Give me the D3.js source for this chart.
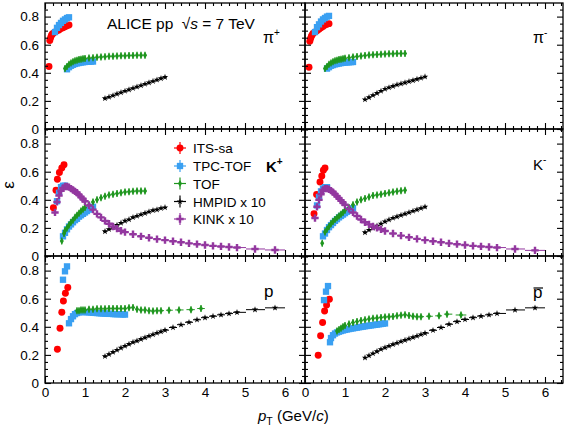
<!DOCTYPE html>
<html><head><meta charset="utf-8">
<script src="https://cdn.jsdelivr.net/npm/d3@7"></script>
<style>
body{margin:0;background:#fff}
svg{display:block}
text{font-family:"Liberation Sans",Arial,Helvetica,sans-serif;fill:#000}
</style>
</head><body>
<svg id="c" width="568" height="430"></svg>
<script>
// ---------- tick labels / categories ----------
const X_TICKS = [0, 1, 2, 3, 4, 5, 6];
const Y_TICKS = [0, 0.2, 0.4, 0.6, 0.8];
const METHODS = ["ITS-sa", "TPC-TOF", "TOF", "HMPID x 10", "KINK x 10"];

// ---------- data: [pT, efficiency] ----------
const piPlusITS = [[0.1,0.445],[0.12,0.63],[0.14,0.65],[0.16,0.665],[0.18,0.675],[0.2,0.68],[0.25,0.69],[0.3,0.70],[0.35,0.705],[0.4,0.715],[0.45,0.72],[0.5,0.728],[0.55,0.735],[0.6,0.74]];
const piPlusTPCTOF = [[0.25,0.69],[0.3,0.72],[0.35,0.74],[0.4,0.755],[0.45,0.77],[0.5,0.78],[0.55,0.79],[0.6,0.795],
  [0.55,0.425],[0.6,0.44],[0.65,0.45],[0.7,0.457],[0.75,0.463],[0.8,0.467],[0.85,0.47],[0.9,0.473],[0.95,0.475],[1.0,0.477],[1.05,0.478],[1.1,0.479],[1.15,0.48],[1.2,0.48]];
const piPlusTOF = [[0.5,0.43],[0.55,0.445],[0.6,0.46],[0.65,0.47],[0.7,0.478],[0.75,0.485],[0.8,0.49],[0.85,0.494],[0.9,0.497],[0.95,0.5],[1.0,0.502],[1.1,0.505],[1.2,0.508],[1.3,0.51],[1.4,0.513],[1.5,0.515],[1.6,0.517],[1.7,0.518],[1.8,0.52],[1.9,0.521],[2.0,0.522],[2.1,0.523],[2.2,0.524],[2.3,0.525],[2.4,0.525],[2.5,0.525]];
const piPlusHMPID = [[1.5,0.218],[1.6,0.228],[1.7,0.238],[1.8,0.25],[1.9,0.26],[2.0,0.27],[2.1,0.28],[2.2,0.29],[2.3,0.30],[2.4,0.31],[2.5,0.32],[2.6,0.33],[2.7,0.34],[2.8,0.35],[2.9,0.36],[3.0,0.369]];

const piMinusITS = [[0.1,0.44],[0.12,0.625],[0.14,0.645],[0.16,0.66],[0.18,0.67],[0.2,0.68],[0.25,0.69],[0.3,0.70],[0.35,0.71],[0.4,0.72],[0.45,0.73],[0.5,0.74],[0.55,0.745],[0.6,0.75]];
const piMinusTPCTOF = [[0.25,0.69],[0.3,0.725],[0.35,0.745],[0.4,0.765],[0.45,0.78],[0.5,0.79],[0.55,0.80],[0.6,0.805],
  [0.55,0.43],[0.6,0.44],[0.65,0.45],[0.7,0.455],[0.75,0.46],[0.8,0.463],[0.85,0.466],[0.9,0.469],[0.95,0.471],[1.0,0.473],[1.05,0.474],[1.1,0.475],[1.15,0.476],[1.2,0.477]];
const piMinusTOF = [[0.5,0.43],[0.55,0.445],[0.6,0.46],[0.65,0.47],[0.7,0.478],[0.75,0.485],[0.8,0.49],[0.85,0.494],[0.9,0.497],[0.95,0.5],[1.0,0.503],[1.1,0.508],[1.2,0.512],[1.3,0.516],[1.4,0.52],[1.5,0.523],[1.6,0.526],[1.7,0.528],[1.8,0.53],[1.9,0.532],[2.0,0.534],[2.1,0.535],[2.2,0.536],[2.3,0.537],[2.4,0.538],[2.5,0.538]];
const piMinusHMPID = [[1.5,0.21],[1.6,0.225],[1.7,0.24],[1.8,0.255],[1.9,0.27],[2.0,0.285],[2.1,0.295],[2.2,0.305],[2.3,0.315],[2.4,0.322],[2.5,0.33],[2.6,0.338],[2.7,0.346],[2.8,0.355],[2.9,0.363],[3.0,0.372]];

const kPlusITS = [[0.21,0.343],[0.275,0.468],[0.31,0.546],[0.36,0.594],[0.42,0.626],[0.475,0.65]];
const kPlusTPCTOF = [[0.3,0.39],[0.35,0.45],[0.4,0.49],[0.45,0.50],[0.5,0.50],
  [0.45,0.14],[0.5,0.165],[0.55,0.19],[0.6,0.21],[0.65,0.225],[0.7,0.24],[0.75,0.255],[0.8,0.265],[0.85,0.28],[0.9,0.29],[0.95,0.30],[1.0,0.31],[1.05,0.32],[1.1,0.33],[1.15,0.34],[1.2,0.35]];
const kPlusTOF = [[0.42,0.106],[0.475,0.16],[0.5,0.18],[0.55,0.20],[0.6,0.22],[0.65,0.24],[0.7,0.255],[0.75,0.275],[0.8,0.29],[0.85,0.305],[0.9,0.32],[0.95,0.333],[1.0,0.345],[1.1,0.365],[1.2,0.385],[1.3,0.40],[1.4,0.415],[1.5,0.425],[1.6,0.435],[1.7,0.44],[1.8,0.445],[1.9,0.45],[2.0,0.455],[2.1,0.458],[2.2,0.46],[2.3,0.462],[2.4,0.462],[2.5,0.462]];
const kPlusHMPID = [[1.5,0.175],[1.6,0.19],[1.7,0.205],[1.8,0.22],[1.9,0.235],[2.0,0.25],[2.1,0.26],[2.2,0.275],[2.3,0.285],[2.4,0.295],[2.5,0.305],[2.6,0.315],[2.7,0.325],[2.8,0.33],[2.9,0.34],[3.0,0.345]];
const kPlusKINK = [[0.25,0.31],[0.3,0.385],[0.35,0.43],[0.4,0.465],[0.45,0.485],[0.5,0.495],[0.55,0.495],[0.6,0.49],[0.65,0.48],[0.7,0.47],[0.75,0.46],[0.8,0.45],[0.85,0.435],[0.9,0.42],[0.95,0.405],[1.0,0.39],[1.1,0.36],[1.2,0.33],[1.3,0.30],[1.4,0.275],[1.5,0.25],[1.6,0.23],[1.7,0.21],[1.8,0.195],[1.9,0.18],[2.0,0.17],[2.2,0.155],[2.4,0.14],[2.6,0.13],[2.8,0.12],[3.0,0.113],[3.2,0.105],[3.4,0.098],[3.6,0.09],[3.8,0.084],[4.0,0.078],[4.2,0.072],[4.4,0.068],[4.6,0.064],[4.8,0.06],[5.25,0.05],[5.75,0.043]];

const kMinusITS = [[0.225,0.30],[0.29,0.437],[0.375,0.527],[0.42,0.57],[0.46,0.61],[0.5,0.626]];
const kMinusTPCTOF = [[0.3,0.36],[0.35,0.42],[0.4,0.46],[0.45,0.48],[0.5,0.49],[0.55,0.49],
  [0.45,0.14],[0.5,0.16],[0.55,0.185],[0.6,0.205],[0.65,0.22],[0.7,0.235],[0.75,0.25],[0.8,0.262],[0.85,0.275],[0.9,0.285],[0.95,0.295],[1.0,0.305],[1.05,0.315],[1.1,0.325],[1.15,0.333],[1.2,0.34]];
const kMinusTOF = [[0.43,0.09],[0.5,0.17],[0.55,0.19],[0.6,0.21],[0.65,0.23],[0.7,0.245],[0.75,0.26],[0.8,0.272],[0.85,0.285],[0.9,0.297],[0.95,0.31],[1.0,0.325],[1.1,0.345],[1.2,0.365],[1.3,0.385],[1.4,0.40],[1.5,0.41],[1.6,0.42],[1.7,0.43],[1.8,0.435],[1.9,0.44],[2.0,0.445],[2.1,0.45],[2.2,0.455],[2.3,0.46],[2.4,0.465],[2.5,0.468]];
const kMinusHMPID = [[1.5,0.168],[1.6,0.185],[1.7,0.20],[1.8,0.215],[1.9,0.23],[2.0,0.245],[2.1,0.258],[2.2,0.27],[2.3,0.28],[2.4,0.29],[2.5,0.30],[2.6,0.31],[2.7,0.32],[2.8,0.33],[2.9,0.34],[3.0,0.35]];
const kMinusKINK = [[0.25,0.27],[0.3,0.35],[0.35,0.40],[0.4,0.44],[0.45,0.47],[0.5,0.48],[0.55,0.48],[0.6,0.475],[0.65,0.465],[0.7,0.455],[0.75,0.44],[0.8,0.425],[0.85,0.41],[0.9,0.395],[0.95,0.38],[1.0,0.365],[1.1,0.335],[1.2,0.31],[1.3,0.285],[1.4,0.26],[1.5,0.24],[1.6,0.225],[1.7,0.21],[1.8,0.2],[1.9,0.19],[2.0,0.178],[2.2,0.16],[2.4,0.145],[2.6,0.133],[2.8,0.122],[3.0,0.113],[3.2,0.105],[3.4,0.098],[3.6,0.09],[3.8,0.084],[4.0,0.078],[4.2,0.072],[4.4,0.068],[4.6,0.064],[4.8,0.06],[5.25,0.05],[5.75,0.04]];

const pITS = [[0.31,0.24],[0.375,0.389],[0.42,0.503],[0.46,0.584],[0.51,0.639],[0.57,0.68]];
const pTPCTOF = [[0.45,0.735],[0.5,0.795],[0.55,0.83],
  [0.6,0.425],[0.65,0.455],[0.7,0.475],[0.75,0.49],[0.8,0.498],[0.85,0.503],[0.9,0.505],[0.95,0.505],[1.0,0.505],[1.05,0.504],[1.1,0.503],[1.15,0.502],[1.2,0.50],[1.25,0.499],[1.3,0.498],[1.35,0.497],[1.4,0.496],[1.45,0.495],[1.5,0.494],[1.55,0.493],[1.6,0.492],[1.65,0.492],[1.7,0.491],[1.75,0.49],[1.8,0.49],[1.85,0.49],[1.9,0.489],[1.95,0.488],[2.0,0.487]];
const pTOF = [[0.8,0.515],[0.85,0.515],[0.9,0.52],[0.95,0.52],[1.0,0.52],[1.1,0.525],[1.2,0.525],[1.3,0.528],[1.4,0.528],[1.5,0.528],[1.6,0.53],[1.7,0.53],[1.8,0.53],[1.9,0.53],[2.0,0.53],[2.1,0.535],[2.2,0.537],[2.3,0.525],[2.4,0.52],[2.5,0.52],[2.6,0.515],[2.7,0.512],[2.8,0.515],[2.9,0.515],[3.1,0.518],[3.35,0.52],[3.65,0.522],[3.9,0.53]];
const pHMPID = [[1.5,0.19],[1.6,0.205],[1.7,0.22],[1.8,0.235],[1.9,0.25],[2.0,0.263],[2.1,0.277],[2.2,0.29],[2.3,0.30],[2.4,0.312],[2.5,0.323],[2.6,0.334],[2.7,0.345],[2.8,0.356],[2.9,0.366],[3.0,0.376],[3.2,0.395],[3.4,0.415],[3.6,0.432],[3.8,0.45],[4.0,0.465],[4.2,0.475],[4.4,0.485],[4.6,0.494],[4.8,0.503],[5.25,0.522],[5.75,0.535]];

const pbarITS = [[0.33,0.198],[0.39,0.336],[0.44,0.431],[0.49,0.512],[0.54,0.555],[0.61,0.596]];
const pbarTPCTOF = [[0.475,0.59],[0.525,0.65],[0.575,0.69],
  [0.625,0.29],[0.65,0.32],[0.7,0.34],[0.75,0.352],[0.8,0.36],[0.85,0.365],[0.9,0.37],[0.95,0.374],[1.0,0.378],[1.05,0.381],[1.1,0.384],[1.15,0.387],[1.2,0.389],[1.25,0.392],[1.3,0.394],[1.35,0.397],[1.4,0.399],[1.45,0.401],[1.5,0.404],[1.55,0.406],[1.6,0.408],[1.65,0.41],[1.7,0.412],[1.75,0.414],[1.8,0.416],[1.85,0.418],[1.9,0.42],[1.95,0.422],[2.0,0.424]];
const pbarTOF = [[0.8,0.37],[0.85,0.38],[0.9,0.39],[0.95,0.40],[1.0,0.41],[1.1,0.42],[1.2,0.43],[1.3,0.437],[1.4,0.445],[1.5,0.45],[1.6,0.455],[1.7,0.46],[1.8,0.463],[1.9,0.467],[2.0,0.47],[2.1,0.472],[2.2,0.474],[2.3,0.478],[2.4,0.483],[2.5,0.485],[2.6,0.48],[2.7,0.475],[2.8,0.472],[2.9,0.472],[3.1,0.475],[3.35,0.478],[3.55,0.49],[3.9,0.484]];
const pbarHMPID = [[1.5,0.18],[1.6,0.195],[1.7,0.21],[1.8,0.225],[1.9,0.24],[2.0,0.252],[2.1,0.263],[2.2,0.275],[2.3,0.285],[2.4,0.295],[2.5,0.305],[2.6,0.315],[2.7,0.325],[2.8,0.335],[2.9,0.345],[3.0,0.355],[3.2,0.375],[3.4,0.395],[3.6,0.418],[3.8,0.437],[4.0,0.452],[4.2,0.465],[4.4,0.476],[4.6,0.485],[4.8,0.495],[5.25,0.52],[5.75,0.535]];

// ---------- styles ----------
const STYLE = [
  {color:"#ff0000", sym:d3.symbolCircle,  size:38, bars:false},
  {color:"#3aa0f2", sym:d3.symbolSquare,  size:40, bars:false},
  {color:"#1f961f", sym:d3.symbolDiamond, size:14, bars:true, vbar:3.5, frac:0.38},
  {color:"#000000", sym:d3.symbolStar,    size:13, bars:true, frac:0.5},
  {color:"#93379f", sym:d3.symbolCross,   size:30, bars:true, frac:0.5}
];

const panels = [
  {row:0, col:0, series:[piPlusITS, piPlusTPCTOF, piPlusTOF, piPlusHMPID, null]},
  {row:0, col:1, series:[piMinusITS, piMinusTPCTOF, piMinusTOF, piMinusHMPID, null]},
  {row:1, col:0, series:[kPlusITS, kPlusTPCTOF, kPlusTOF, kPlusHMPID, kPlusKINK]},
  {row:1, col:1, series:[kMinusITS, kMinusTPCTOF, kMinusTOF, kMinusHMPID, kMinusKINK]},
  {row:2, col:0, series:[pITS, pTPCTOF, pTOF, pHMPID, null]},
  {row:2, col:1, series:[pbarITS, pbarTPCTOF, pbarTOF, pbarHMPID, null]}
];

// ---------- layout ----------
const W = 568, H = 430;
const COLS = [[45,305],[305,563]];
const ROWS = [[3,129],[129,256],[256,383]];
const PX_PER_X = 40, PX_PER_Y = 140.5;
const FS = 13.5;

const svg = d3.select("#c");

function fmtY(v){ return v === 0 ? "0" : v.toFixed(1); }

panels.forEach(p => {
  const [x0,x1] = COLS[p.col], [y0,y1] = ROWS[p.row];
  const xs = d3.scaleLinear().domain([0,(x1-x0)/PX_PER_X]).range([x0,x1]);
  const ys = d3.scaleLinear().domain([0,(y1-y0)/PX_PER_Y]).range([y1,y0]);
  p.xs = xs; p.ys = ys;
  const g = svg.append("g");
  const clipId = "clip"+p.row+p.col;
  svg.append("clipPath").attr("id",clipId).append("rect").attr("x",x0).attr("y",y0).attr("width",x1-x0).attr("height",y1-y0);
  const dg = g.append("g").attr("clip-path","url(#"+clipId+")");

  p.series.forEach((data, si) => {
    if (!data) return;
    const st = STYLE[si];
    const sg = dg.append("g");
    if (st.bars) {
      data.forEach((d,i) => {
        const L = i>0 ? d[0]-data[i-1][0] : null;
        const R = i<data.length-1 ? data[i+1][0]-d[0] : null;
        const l = (L==null||L<=0) ? R : L, r = (R==null||R<=0) ? L : R;
        sg.append("line").attr("x1",xs(d[0]-l*st.frac)).attr("x2",xs(d[0]+r*st.frac))
          .attr("y1",ys(d[1])).attr("y2",ys(d[1])).attr("stroke",st.color).attr("stroke-width",1);
        if (st.vbar) sg.append("line").attr("x1",xs(d[0])).attr("x2",xs(d[0]))
          .attr("y1",ys(d[1])-st.vbar).attr("y2",ys(d[1])+st.vbar).attr("stroke",st.color).attr("stroke-width",1.2);
      });
    }
    sg.selectAll("path.m").data(data).join("path").attr("class","m")
      .attr("d", d3.symbol(st.sym, st.size))
      .attr("transform", d => `translate(${xs(d[0])},${ys(d[1])})`)
      .attr("fill", st.color);
  });

  // axes (ticks inward on all sides)
  const xMinor = d3.range(0, xs.domain()[1]+1e-9, 0.2).filter(v => Math.abs(v/1 - Math.round(v)) > 1e-6);
  const yMinor = d3.range(0, ys.domain()[1]+1e-9, 0.05).filter(v => Math.abs(v/0.2 - Math.round(v/0.2)) > 1e-6);
  const mk = (axisFn, scale, tickVals, size, labels, padding, tr) => {
    const a = axisFn(scale).tickValues(tickVals).tickSizeInner(-size).tickSizeOuter(0).tickPadding(padding);
    if (!labels) a.tickFormat(""); else a.tickFormat(axisFn===d3.axisLeft ? fmtY : d3.format("d"));
    const ag = g.append("g").attr("transform", tr).call(a);
    ag.select(".domain").remove();
    ag.selectAll("line").attr("stroke","#000").attr("stroke-width",1.1);
    ag.selectAll("text").attr("font-size",FS).attr("font-family",'"Liberation Sans",Arial,sans-serif').attr("fill","#000");
    return ag;
  };
  mk(d3.axisLeft, ys, Y_TICKS, 6, p.col===0, 6, `translate(${x0},0)`);
  mk(d3.axisLeft, ys, yMinor, 3, false, 0, `translate(${x0},0)`);
  mk(d3.axisRight, ys, Y_TICKS, 6, false, 0, `translate(${x1},0)`);
  mk(d3.axisRight, ys, yMinor, 3, false, 0, `translate(${x1},0)`);
  mk(d3.axisTop, xs, X_TICKS, 6, false, 0, `translate(0,${y0})`);
  mk(d3.axisTop, xs, xMinor, 3, false, 0, `translate(0,${y0})`);
  mk(d3.axisBottom, xs, X_TICKS, 6, p.row===2, 4, `translate(0,${y1})`);
  mk(d3.axisBottom, xs, xMinor, 3, false, 0, `translate(0,${y1})`);

  g.append("rect").attr("x",x0).attr("y",y0).attr("width",x1-x0).attr("height",y1-y0)
    .attr("fill","none").attr("stroke","#000").attr("stroke-width",1.3);
});

// ---------- particle labels ----------
function piLabel(x, y, sign){
  const t = svg.append("text").attr("x",x).attr("y",y).attr("font-size",16)
    .attr("font-family",'"Liberation Serif","Times New Roman",serif');
  t.append("tspan").text("π");
  t.append("tspan").attr("font-size",10).attr("dy",-7).attr("font-family",'"Liberation Sans",Arial,sans-serif').text(sign);
}
piLabel(263, 43, "+");
piLabel(533, 43, "-");
function kLabel(x, y, sign, bold){
  const t = svg.append("text").attr("x",x).attr("y",y).attr("font-size",15).attr("font-weight",bold?"bold":"normal");
  t.append("tspan").text("K");
  t.append("tspan").attr("font-size",10).attr("dy",-7).text(sign);
}
kLabel(266, 172, "+", true);
kLabel(533, 170, "-", false);
svg.append("text").attr("x",264).attr("y",297).attr("font-size",17).text("p");
svg.append("text").attr("x",533).attr("y",298).attr("font-size",17).text("p");
svg.append("line").attr("x1",533.5).attr("x2",543).attr("y1",288).attr("y2",288).attr("stroke","#000").attr("stroke-width",1.2);

// ---------- title ----------
const tt = svg.append("text").attr("x",107).attr("y",29).attr("font-size",15.5);
tt.append("tspan").text("ALICE pp ");
tt.append("tspan").attr("dx",4).text("√");
tt.append("tspan").attr("font-style","italic").text("s");
tt.append("tspan").text(" = 7 TeV");

// ---------- legend ----------
const lg = svg.append("g");
METHODS.forEach((m, i) => {
  const st = STYLE[i];
  const cy = [148, 166, 183.5, 201.5, 219][i];
  const cx = 180;
  lg.append("line").attr("x1",cx-6).attr("x2",cx+6).attr("y1",cy).attr("y2",cy).attr("stroke",st.color).attr("stroke-width",1.2);
  lg.append("line").attr("x1",cx).attr("x2",cx).attr("y1",cy-6).attr("y2",cy+6).attr("stroke",st.color).attr("stroke-width",1.2);
  lg.append("path").attr("d", d3.symbol(st.sym, st.size)).attr("transform",`translate(${cx},${cy})`).attr("fill",st.color);
  lg.append("text").attr("x",193).attr("y",cy+5).attr("font-size",FS).text(m);
});

// ---------- axis titles ----------
svg.append("text").attr("transform","translate(14,185) rotate(-90)").attr("text-anchor","middle")
  .attr("font-size",17).text("ε");
const xt = svg.append("text").attr("x",258).attr("y",421).attr("font-size",15);
xt.append("tspan").attr("font-style","italic").text("p");
xt.append("tspan").attr("font-size",10.5).attr("dy",4).text("T");
xt.append("tspan").attr("dy",-4).text(" (GeV/");
xt.append("tspan").attr("font-style","italic").text("c");
xt.append("tspan").text(")");
</script>
</body></html>
